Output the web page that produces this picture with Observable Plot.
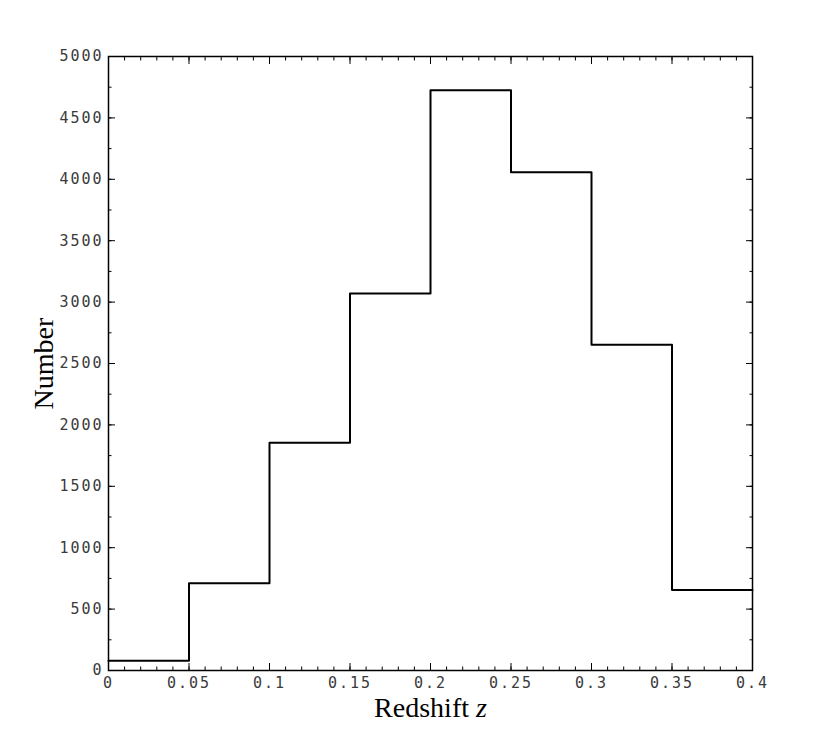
<!DOCTYPE html>
<html>
<head>
<meta charset="utf-8">
<script src="https://cdn.jsdelivr.net/npm/d3@7"></script>
<script src="https://cdn.jsdelivr.net/npm/@observablehq/plot@0.6"></script>
<style>
  html, body { margin: 0; padding: 0; background: #fff; }
  #chart g[aria-label="x-axis tick label"] text,
  #chart g[aria-label="y-axis tick label"] text { letter-spacing: 2px; }
</style>
</head>
<body>
<div id="chart"></div>
<script>
// Bin lower edges (redshift z) and counts
const binStarts = [0, 0.05, 0.1, 0.15, 0.2, 0.25, 0.3, 0.35];
const binEnd = 0.4;
const counts = [80, 710, 1855, 3070, 4725, 4057, 2653, 655];

// Tick labels
const xTicks = [0, 0.05, 0.1, 0.15, 0.2, 0.25, 0.3, 0.35, 0.4];
const yTicks = [0, 500, 1000, 1500, 2000, 2500, 3000, 3500, 4000, 4500, 5000];
const xMinor = d3.range(0, 0.4001, 0.01);
const yMinor = d3.range(0, 5001, 250);

const steps = binStarts.map((x, i) => ({x, y: counts[i]}));
steps.push({x: binEnd, y: counts[counts.length - 1]});

const fmtX = d => String(+(+d).toFixed(2));

function tickAxisX(anchor, ticks, size) {
  return Plot.axisX({anchor, ticks, tickSize: -size, fill: "none", label: null, stroke: "#000", strokeWidth: 1});
}
function tickAxisY(anchor, ticks, size) {
  return Plot.axisY({anchor, ticks, tickSize: -size, fill: "none", label: null, stroke: "#000", strokeWidth: 1});
}

const chart = Plot.plot({
  width: 830,
  height: 755,
  marginTop: 56,
  marginBottom: 85,
  marginLeft: 108,
  marginRight: 78,
  style: {fontFamily: "DejaVu Sans Mono", fontSize: "15px", color: "#000", background: "#fff"},
  x: {domain: [0, 0.4], label: null},
  y: {domain: [0, 5000], label: null},
  marks: [
    // inward ticks on all four sides
    tickAxisX("bottom", xTicks, 7),
    tickAxisX("bottom", xMinor, 3.5),
    tickAxisX("top", xTicks, 7),
    tickAxisX("top", xMinor, 3.5),
    tickAxisY("left", yTicks, 7),
    tickAxisY("left", yMinor, 3.5),
    tickAxisY("right", yTicks, 7),
    tickAxisY("right", yMinor, 3.5),
    // tick labels
    Plot.axisX({anchor: "bottom", ticks: xTicks, tickSize: 0, tickPadding: 7, tickFormat: fmtX, fill: "#3a3a3a", label: null}),
    Plot.axisY({anchor: "left", ticks: yTicks, tickSize: 0, tickPadding: 5, tickFormat: d => String(d), fill: "#3a3a3a", label: null}),
    // axis titles
    Plot.text(["Redshift z"], {frameAnchor: "bottom", dy: 46, fontFamily: "Liberation Serif", fontSize: 28, fill: "#000", lineAnchor: "bottom", textAnchor: "middle"}),
    Plot.text(["Number"], {frameAnchor: "left", dx: -56, rotate: -90, fontFamily: "Liberation Serif", fontSize: 28, fill: "#000", lineAnchor: "bottom", textAnchor: "middle"}),
    // histogram
    Plot.line(steps, {x: "x", y: "y", curve: "step-after", stroke: "#000", strokeWidth: 2}),
    Plot.frame({stroke: "#000", strokeWidth: 1.5})
  ]
});

document.getElementById("chart").appendChild(chart);

// italic z in the x-axis title
d3.select(chart).selectAll("text").each(function() {
  if (this.textContent === "Redshift z") {
    const t = d3.select(this);
    t.text("Redshift ");
    t.append("tspan").attr("font-style", "italic").text("z");
  }
});
</script>
</body>
</html>
